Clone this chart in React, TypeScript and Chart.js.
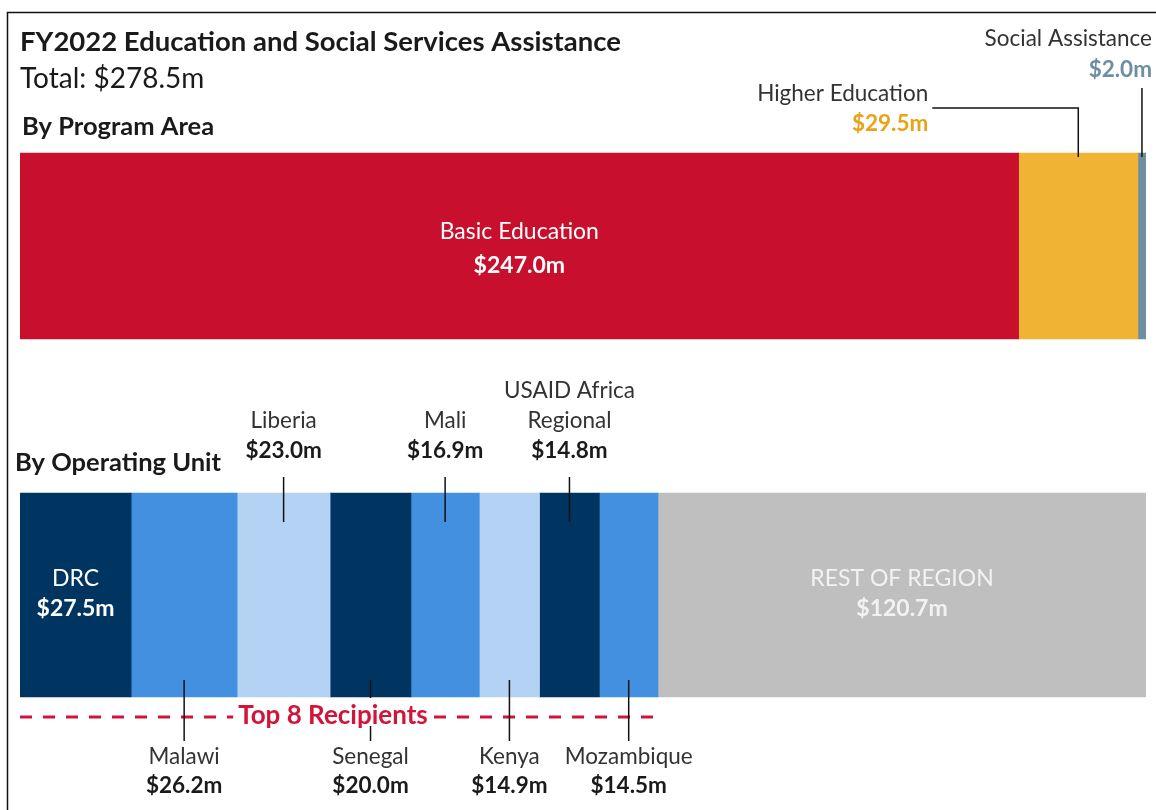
import React, { useEffect, useRef } from "react";
import { Chart, registerables } from "chart.js";

Chart.register(...registerables);

// ---------- data ----------
const TITLE = "FY2022 Education and Social Services Assistance";
const TOTAL_TEXT = "Total: $278.5m";
const TOTAL_VALUE = 278.5;
const ROW_LABELS = ["By Program Area", "By Operating Unit"];
const TOP8_TEXT = "Top 8 Recipients";

const programNames = [["Basic Education"], ["Higher Education"], ["Social Assistance"]];
const programValues = [247.0, 29.5, 2.0];
const programColors = ["#C8102E", "#F0B435", "#6E8EA3"];
const programValueColors = ["#FFFFFF", "#E8A317", "#6E8EA3"];
const programPlacement = ["inside", "calloutLeft", "calloutTop"];

const unitNames = [
  ["DRC"],
  ["Malawi"],
  ["Liberia"],
  ["Senegal"],
  ["Mali"],
  ["Kenya"],
  ["USAID Africa", "Regional"],
  ["Mozambique"],
  ["REST OF REGION"],
];
const unitValues = [27.5, 26.2, 23.0, 20.0, 16.9, 14.9, 14.8, 14.5, 120.7];
const unitColors = [
  "#003562",
  "#4290DF",
  "#B4D2F3",
  "#003562",
  "#4290DF",
  "#B4D2F3",
  "#003562",
  "#4290DF",
  "#BFBFBF",
];
const unitPlacement = ["inside", "below", "above", "below", "above", "below", "above", "below", "inside"];
const TOP_N = 8;

// ---------- style ----------
const FAMILY = "Lato, 'Open Sans', sans-serif";
const TEXT_DARK = "#333333";
const RED = "#D2143A";
const TOP_BAR = 186;
const BOTTOM_BAR = 204;
const LABEL_PX = 22.5;
const INSIDE_PX = 23;

const fmt = (v: number) => `$${v.toFixed(1)}m`;

const annotate = {
  id: "annotate",
  beforeDraw(chart: any) {
    const ctx = chart.ctx;
    ctx.save();
    ctx.fillStyle = "#FFFFFF";
    ctx.fillRect(0, 0, chart.width, chart.height);
    ctx.strokeStyle = "#111111";
    ctx.lineWidth = 1.5;
    ctx.strokeRect(7.5, 12.5, chart.width + 20, chart.height + 20);
    ctx.restore();
  },
  afterDraw(chart: any) {
    const ctx = chart.ctx as CanvasRenderingContext2D;
    const xs = chart.scales.x;
    const ys = chart.scales.y;

    const text = (s: string, x: number, y: number, font: string, color: string, align: CanvasTextAlign = "center") => {
      ctx.font = font;
      ctx.fillStyle = color;
      ctx.textAlign = align;
      ctx.textBaseline = "middle";
      ctx.fillText(s, x, y);
    };
    const line = (pts: number[][], color = "#111111", w = 1.5) => {
      ctx.beginPath();
      ctx.strokeStyle = color;
      ctx.lineWidth = w;
      ctx.setLineDash([]);
      pts.forEach((p, i) => (i ? ctx.lineTo(p[0], p[1]) : ctx.moveTo(p[0], p[1])));
      ctx.stroke();
    };
    const segs = (vals: number[]) => {
      let c = 0;
      return vals.map((v) => {
        const s = c;
        c += v;
        return { x0: xs.getPixelForValue(s), x1: xs.getPixelForValue(c), xc: xs.getPixelForValue(s + v / 2) };
      });
    };

    const reg = (px: number) => `${px}px ${FAMILY}`;
    const bold = (px: number) => `bold ${px}px ${FAMILY}`;

    ctx.save();
    const left = xs.left;

    // headings
    text(TITLE, left, 42, bold(27.5), "#1A1A1A", "left");
    text(TOTAL_TEXT, left, 79, reg(28), "#1A1A1A", "left");

    const cy0 = ys.getPixelForValue(0);
    const cy1 = ys.getPixelForValue(1);
    const top0 = cy0 - TOP_BAR / 2;
    const top1 = cy1 - BOTTOM_BAR / 2;
    const bot1 = cy1 + BOTTOM_BAR / 2;

    text(ROW_LABELS[0], left + 2, top0 - 26, bold(25.5), "#1A1A1A", "left");
    text(ROW_LABELS[1], left - 5, top1 - 30, bold(25.5), "#1A1A1A", "left");

    // program area labels
    const ps = segs(programValues);
    programValues.forEach((v, i) => {
      const p = ps[i];
      const place = programPlacement[i];
      const name = programNames[i][0];
      if (place === "inside") {
        text(name, p.xc, cy0 - 14, reg(INSIDE_PX), "#FFFFFF");
        text(fmt(v), p.xc, cy0 + 20, bold(INSIDE_PX), programValueColors[i]);
      } else if (place === "calloutLeft") {
        const rx = p.xc - 150;
        text(name, rx, top0 - 59, reg(LABEL_PX), TEXT_DARK, "right");
        text(fmt(v), rx, top0 - 29, bold(LABEL_PX), programValueColors[i], "right");
        line([[rx + 4, top0 - 45], [p.xc, top0 - 45], [p.xc, top0 + 4]]);
      } else {
        const rx = chart.width - 4;
        text(name, rx, top0 - 114, reg(LABEL_PX), TEXT_DARK, "right");
        text(fmt(v), rx, top0 - 83, bold(LABEL_PX), programValueColors[i], "right");
        line([[p.xc, top0 - 65], [p.xc, top0 + 4]]);
      }
    });

    // operating unit labels
    const us = segs(unitValues);

    // Top-8 dashed bracket
    const dashY = bot1 + 20;
    const t8x0 = us[0].x0;
    const t8x1 = us[TOP_N - 1].x1;
    ctx.beginPath();
    ctx.strokeStyle = RED;
    ctx.lineWidth = 3;
    ctx.setLineDash([12, 11]);
    ctx.moveTo(t8x0, dashY);
    ctx.lineTo(t8x1, dashY);
    ctx.stroke();
    ctx.setLineDash([]);

    unitValues.forEach((v, i) => {
      const p = us[i];
      const place = unitPlacement[i];
      const names = unitNames[i];
      if (place === "inside") {
        const light = i === unitValues.length - 1 ? "#F2F2F2" : "#FFFFFF";
        text(names[0], p.xc, cy1 - 16, reg(INSIDE_PX), light);
        text(fmt(v), p.xc, cy1 + 14, bold(INSIDE_PX), light);
      } else if (place === "above") {
        const valY = top1 - 42;
        text(fmt(v), p.xc, valY, bold(LABEL_PX), "#1A1A1A");
        names
          .slice()
          .reverse()
          .forEach((n, k) => text(n, p.xc, valY - 30 * (k + 1), reg(LABEL_PX), TEXT_DARK));
        line([[p.xc, top1 - 16], [p.xc, top1 + 29]]);
      } else {
        line([[p.xc, bot1 - 17], [p.xc, bot1 + 44]]);
        text(names[0], p.xc, bot1 + 60, reg(LABEL_PX), TEXT_DARK);
        text(fmt(v), p.xc, bot1 + 89, bold(LABEL_PX), "#1A1A1A");
      }
    });

    // Top-8 label with white backing
    ctx.font = bold(26);
    const tx = (t8x0 + t8x1) / 2 - 6;
    const tw = ctx.measureText(TOP8_TEXT).width;
    ctx.fillStyle = "#FFFFFF";
    ctx.fillRect(tx - tw / 2 - 5, bot1 + 1, tw + 10, 28);
    text(TOP8_TEXT, tx, dashY - 1, bold(26), RED);

    ctx.restore();
  },
};

export default function App() {
  const canvasRef = useRef<HTMLCanvasElement | null>(null);

  useEffect(() => {
    if (!canvasRef.current) return;
    const datasets: any[] = [];
    programValues.forEach((v, i) =>
      datasets.push({
        label: programNames[i].join(" "),
        data: [v, null],
        backgroundColor: programColors[i],
        borderWidth: 0,
        barThickness: TOP_BAR,
      })
    );
    unitValues.forEach((v, i) =>
      datasets.push({
        label: unitNames[i].join(" "),
        data: [null, v],
        backgroundColor: unitColors[i],
        borderWidth: 0,
        barThickness: BOTTOM_BAR,
      })
    );

    const chart = new Chart(canvasRef.current, {
      type: "bar",
      data: { labels: ROW_LABELS, datasets },
      options: {
        indexAxis: "y",
        animation: false,
        responsive: true,
        maintainAspectRatio: false,
        layout: { padding: { left: 20, right: 10, top: 71.5, bottom: 40.5 } },
        scales: {
          x: { type: "linear", min: 0, max: TOTAL_VALUE, stacked: true, display: false },
          y: { type: "category", stacked: true, display: false, offset: true },
        },
        plugins: {
          legend: { display: false },
          tooltip: { enabled: false },
          title: { display: false },
        },
      },
      plugins: [annotate],
    });
    return () => chart.destroy();
  }, []);

  return (
    <div style={{ position: "absolute", left: 0, top: 0, width: 1156, height: 810 }}>
      <canvas ref={canvasRef} />
    </div>
  );
}
